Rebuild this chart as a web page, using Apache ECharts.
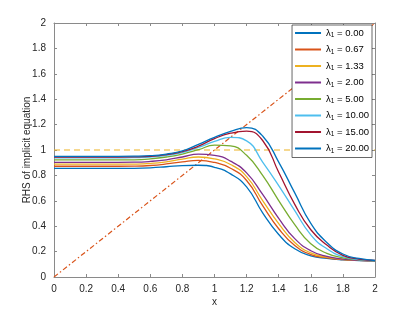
<!DOCTYPE html>
<html>
<head>
<meta charset="utf-8">
<script src="https://cdn.jsdelivr.net/npm/echarts@6/dist/echarts.min.js"></script>
<style>
html,body{margin:0;padding:0;background:#fff;}
#chart{width:415px;height:312px;}
</style>
</head>
<body>
<div id="chart"></div>
<script>
// x sample positions
const xValues = [0,0.1,0.2,0.3,0.4,0.5,0.6,0.7,0.8,0.9,1.0,1.1,1.2,1.3,1.4,1.5,1.6,1.7,1.8,1.9,2.0];
// legend labels (lambda_1 values)
const lambdaLabels = ['0.00','0.67','1.33','2.00','5.00','10.00','15.00','20.00'];
// RHS values, one array per lambda_1
const rhsL000 = [0.855,0.855,0.855,0.855,0.855,0.856,0.860,0.868,0.877,0.880,0.864,0.812,0.710,0.505,0.335,0.222,0.167,0.146,0.135,0.130,0.128];
const rhsL067 = [0.872,0.872,0.872,0.872,0.872,0.873,0.878,0.890,0.907,0.918,0.902,0.856,0.760,0.562,0.380,0.248,0.177,0.151,0.137,0.131,0.128];
const rhsL133 = [0.888,0.888,0.888,0.888,0.888,0.889,0.894,0.907,0.928,0.945,0.930,0.886,0.790,0.602,0.420,0.272,0.190,0.156,0.139,0.131,0.128];
const rhsL200 = [0.903,0.903,0.903,0.903,0.903,0.904,0.910,0.923,0.945,0.967,0.958,0.912,0.820,0.650,0.462,0.302,0.207,0.162,0.141,0.132,0.128];
const rhsL500 = [0.922,0.922,0.922,0.922,0.922,0.923,0.930,0.945,0.968,1.002,1.038,1.032,0.958,0.800,0.602,0.412,0.262,0.186,0.151,0.135,0.128];
const rhsL1000 = [0.938,0.938,0.938,0.938,0.938,0.940,0.945,0.958,0.980,1.020,1.068,1.100,1.072,0.905,0.720,0.522,0.332,0.222,0.161,0.137,0.128];
const rhsL1500 = [0.945,0.945,0.945,0.945,0.945,0.946,0.950,0.963,0.987,1.030,1.090,1.132,1.148,1.075,0.825,0.572,0.372,0.252,0.171,0.141,0.130];
const rhsL2000 = [0.950,0.950,0.950,0.950,0.950,0.951,0.955,0.968,0.993,1.045,1.100,1.147,1.176,1.110,0.905,0.662,0.422,0.272,0.181,0.146,0.130];
// reference lines
const refX = [0, 2];
const diagonalY = [0, 2];
const unityY = [1, 1];

const curveArrays = [rhsL000, rhsL067, rhsL133, rhsL200, rhsL500, rhsL1000, rhsL1500, rhsL2000];
const colors = ['#0072BD','#D95319','#EDB120','#7E2F8E','#77AC30','#4DBEEE','#A2142F','#0072BD'];
const FONT = 'Liberation Sans, Arial, Helvetica, sans-serif';

const pair = (xs, ys) => xs.map((x, i) => [x, ys[i]]);

const series = curveArrays.map((arr, k) => ({
  name: lambdaLabels[k],
  type: 'line',
  data: pair(xValues, arr),
  smooth: 0.5,
  symbol: 'none',
  lineStyle: { color: colors[k], width: 1.3 },
  itemStyle: { color: colors[k] },
  z: 3
}));
series.push({
  name: 'diag',
  type: 'line',
  data: pair(refX, diagonalY),
  symbol: 'none',
  lineStyle: { color: '#D95319', width: 1.2, type: [5, 2.5, 1.5, 2.5] },
  z: 2
});
series.push({
  name: 'unity',
  type: 'line',
  data: pair(refX, unityY),
  symbol: 'none',
  lineStyle: { color: '#EDB120', width: 1.2, type: [6, 4] },
  z: 2
});

const axisCommon = {
  type: 'value', min: 0, max: 2, interval: 0.2,
  axisLine: { show: true, onZero: false, lineStyle: { color: '#8a8a8a', width: 1 } },
  axisTick: { show: true, inside: true, length: 3, lineStyle: { color: '#8a8a8a' } },
  splitLine: { show: false }
};

const chart = echarts.init(document.getElementById('chart'), null, { renderer: 'canvas' });
chart.setOption({
  animation: false,
  backgroundColor: '#fff',
  textStyle: { fontFamily: FONT },
  grid: { left: 54, right: 40, top: 23, bottom: 35, containLabel: false },
  xAxis: [
    Object.assign({}, axisCommon, {
      position: 'bottom',
      name: 'x', nameLocation: 'middle', nameGap: 20,
      nameMoveOverlap: false,
      nameTextStyle: { color: '#262626', fontSize: 10, fontFamily: FONT },
      axisLabel: { color: '#262626', fontSize: 10, fontFamily: FONT, margin: 7 }
    }),
    Object.assign({}, axisCommon, { position: 'top', axisLabel: { show: false } })
  ],
  yAxis: [
    Object.assign({}, axisCommon, {
      position: 'left',
      name: 'RHS of implicit equation', nameLocation: 'middle', nameGap: 22,
      nameMoveOverlap: false,
      nameTextStyle: { color: '#262626', fontSize: 10, fontFamily: FONT },
      axisLabel: { color: '#262626', fontSize: 10, fontFamily: FONT, margin: 8 }
    }),
    Object.assign({}, axisCommon, { position: 'right', axisLabel: { show: false } })
  ],
  legend: {
    data: lambdaLabels,
    orient: 'vertical',
    right: 43, top: 25,
    padding: [2, 3, 3, 3],
    itemWidth: 26, itemHeight: 2, itemGap: 4.5,
    icon: 'rect',
    backgroundColor: '#fff',
    borderColor: '#262626', borderWidth: 0.7,
    formatter: name => '{a|λ}{s|1}{a| = ' + name + '}',
    textStyle: {
      color: '#000', fontFamily: FONT, fontSize: 9.5,
      rich: {
        a: { fontSize: 9.5, fontFamily: FONT, color: '#000', lineHeight: 12 },
        s: { fontSize: 6.5, fontFamily: FONT, color: '#000', lineHeight: 12, verticalAlign: 'bottom', padding: [5, 0, 0, 0] }
      }
    }
  },
  series: series
});
</script>
</body>
</html>
